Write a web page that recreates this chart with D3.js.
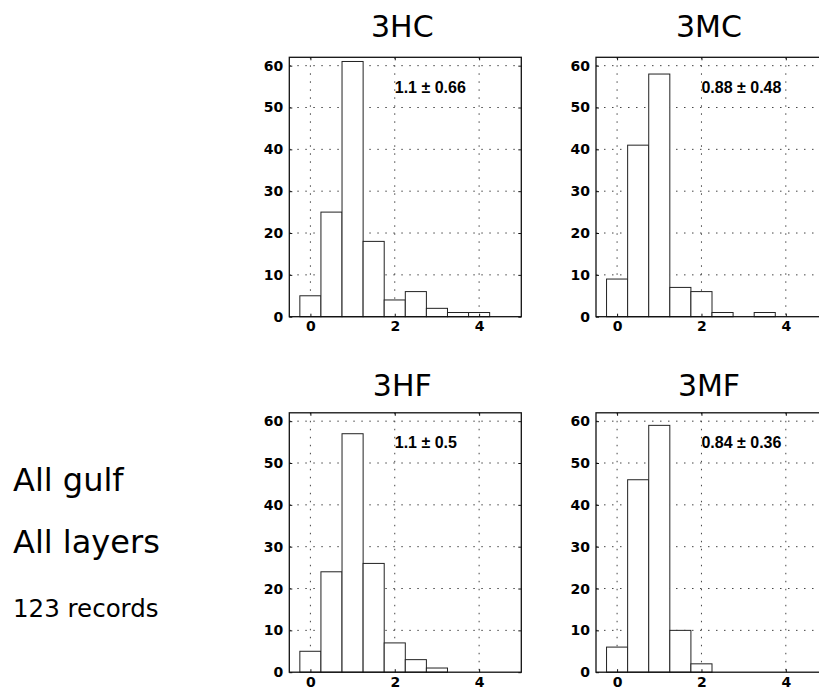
<!DOCTYPE html>
<html>
<head>
<meta charset="utf-8">
<script src="https://cdn.jsdelivr.net/npm/d3@7.9.0/dist/d3.min.js"></script>
<style>
  body { margin: 0; background: #fff; }
  svg { display: block; font-family: "DejaVu Sans", sans-serif; }
</style>
</head>
<body>
<svg width="819" height="694"></svg>
<script>
// histogram bins (centres, width 0.5)
const binCenters = [0, 0.5, 1, 1.5, 2, 2.5, 3, 3.5, 4];
const binWidth = 0.5;

// counts per bin for each case
const counts3HC = [5, 25, 61, 18, 4, 6, 2, 1, 1];
const counts3MC = [9, 41, 58, 7, 6, 1, 0, 1, 0];
const counts3HF = [5, 24, 57, 26, 7, 3, 1, 0, 0];
const counts3MF = [6, 46, 59, 10, 2, 0, 0, 0, 0];

const panelNames = ['3HC', '3MC', '3HF', '3MF'];
const panelStats = ['1.1 \u00b1 0.66', '0.88 \u00b1 0.48', '1.1 \u00b1 0.5', '0.84 \u00b1 0.36'];
const panelCounts = [counts3HC, counts3MC, counts3HF, counts3MF];

const xTicks = [0, 2, 4];
const yTicks = [0, 10, 20, 30, 40, 50, 60];
const sideText = ['All gulf', 'All layers', '123 records'];

const svg = d3.select('svg');

// panel size and positions
const pw = 232, ph = 259.4;
const lefts = [289.3, 596, 289.3, 596];
const tops = [57.3, 57.3, 412.8, 412.8];

const x = d3.scaleLinear().domain([-0.5, 5]).range([0, pw]);
const y = d3.scaleLinear().domain([0, 62]).range([ph, 0]);

panelNames.forEach((name, i) => {
  const g = svg.append('g').attr('transform', `translate(${lefts[i]},${tops[i]})`);
  const data = binCenters.map((c, k) => ({ c, n: panelCounts[i][k] })).filter(d => d.n > 0);

  // dotted grid
  g.selectAll('.hgrid').data(yTicks.filter(t => t > 0)).enter().append('line')
    .attr('x1', 0).attr('x2', pw)
    .attr('y1', d => y(d)).attr('y2', d => y(d))
    .attr('stroke', '#444').attr('stroke-width', 1)
    .attr('stroke-dasharray', '1.5,6.5');
  g.selectAll('.vgrid').data(xTicks).enter().append('line')
    .attr('y1', 0).attr('y2', ph)
    .attr('x1', d => x(d)).attr('x2', d => x(d))
    .attr('stroke', '#444').attr('stroke-width', 1)
    .attr('stroke-dasharray', '1.5,6.5');

  // bars
  g.selectAll('rect.bar').data(data).enter().append('rect')
    .attr('class', 'bar')
    .attr('x', d => x(d.c - binWidth / 2))
    .attr('width', x(binWidth) - x(0))
    .attr('y', d => y(d.n))
    .attr('height', d => y(0) - y(d.n))
    .attr('fill', '#fff')
    .attr('stroke', '#222')
    .attr('stroke-width', 1);

  // frame
  g.append('rect')
    .attr('width', pw).attr('height', ph)
    .attr('fill', 'none').attr('stroke', '#111').attr('stroke-width', 1.3);

  // axes with inward ticks
  g.append('g').call(d3.axisLeft(y).tickValues(yTicks).tickSize(-3).tickPadding(6));
  const xAxis = g.append('g').attr('transform', `translate(0,${ph})`)
    .call(d3.axisBottom(x).tickValues(xTicks).tickFormat(d3.format('d')).tickSize(-3).tickPadding(4));
  g.append('g').attr('transform', `translate(${pw},0)`)
    .call(d3.axisRight(y).tickValues(yTicks).tickSize(-3).tickFormat(''));
  g.append('g')
    .call(d3.axisTop(x).tickValues(xTicks).tickSize(-3).tickFormat(''));
  g.selectAll('.domain').remove();
  g.selectAll('.tick line').attr('stroke', '#111');
  g.selectAll('.tick text')
    .attr('fill', '#000')
    .style('font-family', '"DejaVu Sans", sans-serif')
    .style('font-size', '14px')
    .style('font-weight', 'bold');
  xAxis.selectAll('.tick text').attr('dy', '0.75em');

  // mean +- sd label
  g.append('text')
    .attr('x', x(2)).attr('y', y(53.5))
    .style('font-family', '"Liberation Sans", Arial, sans-serif')
    .attr('font-weight', 'bold')
    .attr('font-size', 16)
    .text(panelStats[i]);

  // title
  g.append('text')
    .attr('x', pw / 2 - 3).attr('y', i < 2 ? 37 - tops[i] : 396 - tops[i])
    .attr('text-anchor', 'middle')
    .attr('font-size', 30)
    .text(name);
});

// side notes
const sideY = [490.7, 553, 617];
const sideSize = [32, 32, 24.5];
svg.selectAll('text.side').data(sideText).enter().append('text')
  .attr('class', 'side')
  .attr('x', 13)
  .attr('y', (d, i) => sideY[i])
  .attr('font-size', (d, i) => sideSize[i])
  .text(d => d);
</script>
</body>
</html>
